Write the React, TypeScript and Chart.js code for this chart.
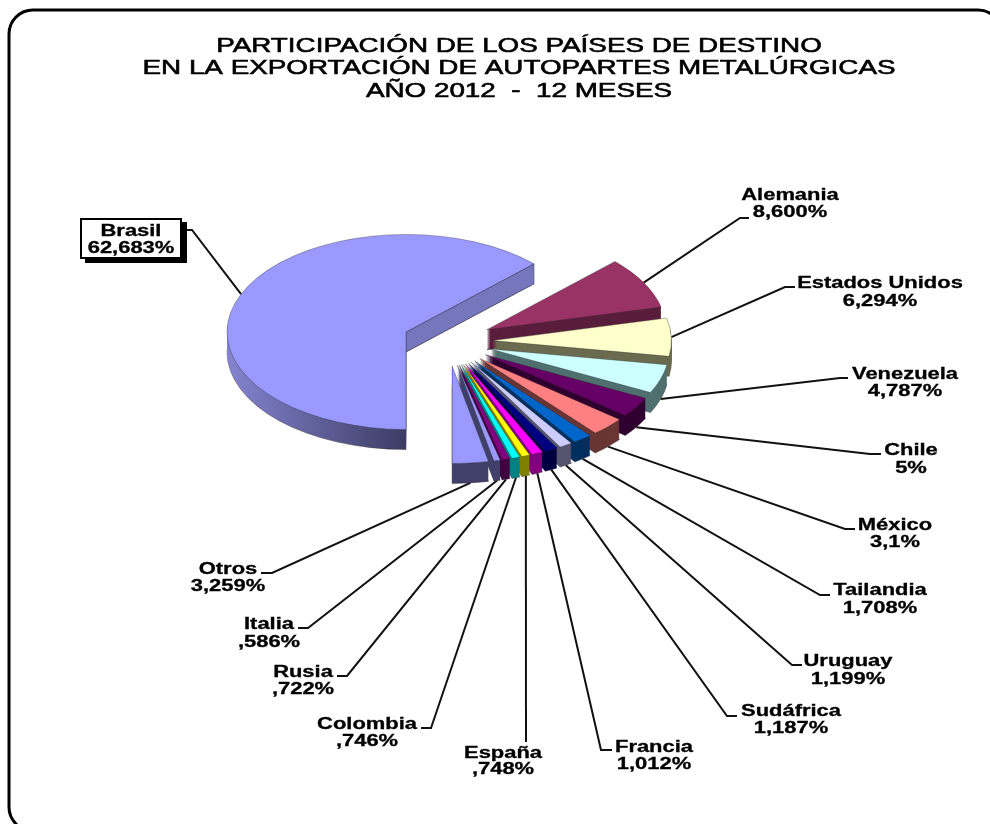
import React, { useEffect, useRef } from "react";
import { Chart, registerables } from "chart.js";

Chart.register(...registerables);

const titleLines = [
  "PARTICIPACIÓN DE LOS PAÍSES DE DESTINO",
  "EN LA EXPORTACIÓN DE AUTOPARTES METALÚRGICAS",
  "AÑO 2012  -  12 MESES",
];
const countries = ["Brasil", "Alemania", "Estados Unidos", "Venezuela", "Chile", "México", "Tailandia", "Uruguay", "Sudáfrica", "Francia", "España", "Colombia", "Rusia", "Italia", "Otros"];
const shares = [62.683, 8.6, 6.294, 4.787, 3.369, 3.1, 1.708, 1.199, 1.187, 1.012, 0.748, 0.746, 0.722, 0.586, 3.259];
const shareLabels = ["62,683%", "8,600%", "6,294%", "4,787%", "5%", "3,1%", "1,708%", "1,199%", "1,187%", "1,012%", ",748%", ",746%", ",722%", ",586%", "3,259%"];
const topColors = ["#9999ff", "#993366", "#ffffcc", "#ccffff", "#660066", "#ff8080", "#0066cc", "#ccccff", "#000080", "#ff00ff", "#ffff00", "#00ffff", "#800080", "#9999ff", "#9999ff"];
const sideColors = ["#6666a8", "#5a1e3c", "#6b6b50", "#507070", "#300030", "#6a3535", "#003060", "#55556f", "#000040", "#800080", "#808000", "#008080", "#400040", "#40406a", "#40406a"];

// Layout of the labels: [elbow x, elbow y, end x, end y, text centre x, first line y, second line y]
const labelLayout = [
  [192, 230, 187, 230, 131, 232, 249],
  [740, 218, 749, 218, 790, 196, 213],
  [785, 287, 795, 287, 880, 284, 302],
  [840, 378, 848, 378, 905, 375, 392],
  [870, 454, 881, 454, 911, 451, 469],
  [845, 529, 855, 529, 895, 526, 543],
  [820, 595, 830, 595, 880, 591, 609],
  [792, 665, 802, 665, 848, 662, 680],
  [727, 716, 737, 716, 791, 712, 729],
  [601, 750, 612, 750, 654, 748, 765],
  [526, 742, 526, 742, 503, 754, 770],
  [431, 728, 421, 728, 367, 725, 742],
  [347, 676, 337, 676, 303, 673, 690],
  [308, 628, 298, 628, 269, 625, 643],
  [272, 573, 261, 573, 228, 570, 587],
];

const PIE_X = 447.5;
const PIE_Y = 341.5;
const SQUASH = 0.545;
const DEPTH = 20;
const EXPLODE = 45;
const LABEL_STRETCH = 1.37;

function stretchedText(ctx: CanvasRenderingContext2D, text: string, cx: number, y: number, stretch: number, weight: number) {
  ctx.save();
  ctx.translate(cx, y);
  ctx.scale(stretch, 1);
  ctx.textAlign = "center";
  ctx.textBaseline = "middle";
  ctx.fillText(text, 0, 0);
  if (weight > 0) {
    ctx.lineWidth = weight;
    ctx.strokeText(text, 0, 0);
  }
  ctx.restore();
}

const pie3d = {
  id: "pie3d",
  beforeDatasetsDraw(chart: any) {
    const ctx: CanvasRenderingContext2D = chart.ctx;
    const arcs = chart.getDatasetMeta(0).data;

    ctx.save();
    ctx.fillStyle = "#ffffff";
    ctx.fillRect(0, 0, chart.width, chart.height);
    ctx.beginPath();
    ctx.roundRect(9, 10, 993, 821, 24);
    ctx.lineWidth = 3;
    ctx.strokeStyle = "#000000";
    ctx.stroke();

    // Title
    ctx.fillStyle = "#000000";
    ctx.strokeStyle = "#000000";
    ctx.font = "21px 'Liberation Sans'";
    const titleStretch = 753 / ctx.measureText(titleLines[1]).width;
    titleLines.forEach((line, i) => {
      stretchedText(ctx, line, 519, 46 + i * 22.5, titleStretch, 0.6);
    });

    const geom = arcs.map((arc: any) => {
      const mid = (arc.startAngle + arc.endAngle) / 2;
      return {
        mid,
        x: PIE_X + Math.cos(mid) * EXPLODE,
        y: PIE_Y + Math.sin(mid) * EXPLODE * SQUASH,
      };
    });

    // Leader lines
    ctx.strokeStyle = "#111111";
    ctx.lineWidth = 2;
    arcs.forEach((arc: any, i: number) => {
      const g = geom[i];
      const r = arc.outerRadius;
      const sx = g.x + Math.cos(g.mid) * r;
      const sy = g.y + Math.sin(g.mid) * r * SQUASH + DEPTH * Math.max(0, Math.min(1, Math.sin(g.mid) * 4));
      const [ex, ey, tx, ty] = labelLayout[i];
      ctx.beginPath();
      ctx.moveTo(sx, sy);
      ctx.lineTo(ex, ey);
      ctx.lineTo(tx, ty);
      ctx.stroke();
    });

    // Slices: the side made by stacking, then the library's own arc on top
    arcs.forEach((arc: any, i: number) => {
      const g = geom[i];
      const r = arc.outerRadius;
      const path = (dy: number) => {
        ctx.beginPath();
        ctx.save();
        ctx.translate(g.x, g.y + dy);
        ctx.scale(1, SQUASH);
        ctx.moveTo(0, 0);
        ctx.arc(0, 0, r, arc.startAngle, arc.endAngle);
        ctx.closePath();
        ctx.restore();
      };
      let side: any = sideColors[i];
      if (i === 0) {
        const grad = ctx.createLinearGradient(g.x - r, 0, g.x, 0);
        grad.addColorStop(0, "#8484d0");
        grad.addColorStop(1, "#3c3c64");
        side = grad;
      }
      for (let d = DEPTH; d >= 1; d--) {
        path(d);
        ctx.fillStyle = side;
        ctx.fill();
        if (d === DEPTH) {
          ctx.lineWidth = 0.7;
          ctx.strokeStyle = "rgba(40,40,40,0.55)";
          ctx.stroke();
        }
      }
      if (i === 0) {
        const ex = g.x + Math.cos(arc.endAngle) * r;
        const ey = g.y + Math.sin(arc.endAngle) * r * SQUASH;
        ctx.beginPath();
        ctx.moveTo(g.x, g.y);
        ctx.lineTo(ex, ey);
        ctx.lineTo(ex, ey + DEPTH);
        ctx.lineTo(g.x, g.y + DEPTH);
        ctx.closePath();
        ctx.fillStyle = "#7676bc";
        ctx.fill();
        ctx.lineWidth = 0.7;
        ctx.strokeStyle = "rgba(40,40,40,0.55)";
        ctx.stroke();
      }
      ctx.save();
      ctx.translate(g.x, g.y);
      ctx.scale(1, SQUASH);
      ctx.translate(-arc.x, -arc.y);
      arc.draw(ctx);
      ctx.restore();
    });

    // Brasil's box with its shadow
    ctx.fillStyle = "#000000";
    ctx.fillRect(85, 222, 102, 41);
    ctx.fillStyle = "#ffffff";
    ctx.fillRect(81, 219, 100, 39);
    ctx.lineWidth = 2;
    ctx.strokeStyle = "#000000";
    ctx.strokeRect(81, 219, 100, 39);

    // Labels
    ctx.fillStyle = "#000000";
    ctx.strokeStyle = "#000000";
    ctx.font = "bold 16px 'Liberation Sans'";
    countries.forEach((name, i) => {
      const [, , , , cx, y1, y2] = labelLayout[i];
      stretchedText(ctx, name, cx, y1, LABEL_STRETCH, 0.3);
      stretchedText(ctx, shareLabels[i], cx, y2, LABEL_STRETCH, 0.3);
    });
    ctx.restore();
    return false;
  },
};

export default function App() {
  const ref = useRef<HTMLCanvasElement>(null);
  useEffect(() => {
    const chart = new Chart(ref.current as HTMLCanvasElement, {
      type: "pie",
      data: {
        labels: countries,
        datasets: [
          {
            data: shares,
            backgroundColor: topColors,
            borderColor: "rgba(40,40,40,0.55)",
            borderWidth: 0.8,
          },
        ],
      },
      options: {
        responsive: false,
        animation: false,
        rotation: 180,
        radius: 179,
        layout: { padding: 0 },
        plugins: { legend: { display: false }, tooltip: { enabled: false }, title: { display: false } },
      },
      plugins: [pie3d],
    } as any);
    return () => chart.destroy();
  }, []);
  return (
    <canvas
      ref={ref}
      width={990}
      height={824}
      style={{ position: "fixed", left: 0, top: 0, display: "block", width: 990, height: 824 }}
    />
  );
}
